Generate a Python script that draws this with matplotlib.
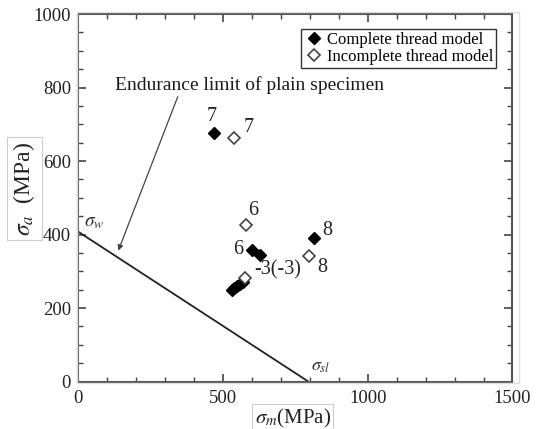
import matplotlib
matplotlib.use("Agg")
import matplotlib.pyplot as plt
from matplotlib.ticker import MultipleLocator
from matplotlib.patches import Rectangle

plt.rcParams['font.family'] = ['Liberation Serif', 'DejaVu Serif']
plt.rcParams['mathtext.fontset'] = 'stix'

# Data
complete_x = [470, 601, 627, 815, 530, 540, 550, 560, 570]
complete_y = [676, 359, 343, 391, 248, 254, 260, 266, 272]
incomplete_x = [539, 580, 799, 578]
incomplete_y = [662, 427, 341, 281]
limit_x = [0, 795]
limit_y = [408, 0]

labels_text = ["7", "7", "6", "6", "8", "8", "-3(-3)"]
labels_x = [462, 590, 606, 553, 862, 842, 690]
labels_y = [722, 690, 465, 360, 412, 310, 305]

fig = plt.figure(figsize=(5.38, 4.29), dpi=100)
L, B, W, H = 0.145, 0.1107, 0.8076, 0.8566
ax = fig.add_axes([L, B, W, H])

# faint frame around plot region
fig.patches.append(Rectangle((77 / 538, 1 - 383 / 429), (519 - 77) / 538, (383 - 12) / 429,
                             transform=fig.transFigure, fill=False,
                             edgecolor='#dddddd', lw=1.0, zorder=0))

ax.plot(limit_x, limit_y, color='#222222', lw=1.3, zorder=2)
ax.plot(complete_x, complete_y, linestyle='none', marker='D', ms=6.5,
        color='black', label='Complete thread model', zorder=3)
ax.plot(incomplete_x, incomplete_y, linestyle='none', marker='D', ms=6.5,
        markerfacecolor='white', markeredgecolor='#444444', mew=1.2,
        label='Incomplete thread model', zorder=3)

for t, x, y in zip(labels_text, labels_x, labels_y):
    ax.text(x, y, t, fontsize=14.5, ha='center', va='center', color='#222222')

ax.text(56, 432, r'$\sigma_w$', fontsize=14, ha='center', va='center', color='#333333')
ax.text(838, 40, r'$\sigma_{sl}$', fontsize=13, ha='center', va='center', color='#333333')

ax.annotate('Endurance limit of plain specimen', xy=(139, 356), xytext=(128, 807),
            fontsize=14, ha='left', va='center', color='#1a1a1a',
            arrowprops=dict(arrowstyle='-|>', color='#444444', lw=0.9,
                            mutation_scale=8, shrinkA=0, shrinkB=0,
                            relpos=(0.237, 0.0)))

ax.set_xlim(0, 1500)
ax.set_ylim(0, 1000)
ax.xaxis.set_major_locator(MultipleLocator(500))
ax.xaxis.set_minor_locator(MultipleLocator(100))
ax.yaxis.set_major_locator(MultipleLocator(200))
ax.yaxis.set_minor_locator(MultipleLocator(50))
ax.tick_params(which='both', direction='in', top=True, right=True,
               color='#444444', labelsize=13.5, labelcolor='#222222')
ax.tick_params(which='major', length=6, width=1.2)
ax.tick_params(which='minor', length=3.5, width=1.0)
ax.tick_params(axis='x', pad=6)
ax.tick_params(axis='y', pad=5)
for s in ax.spines.values():
    s.set_color('#555555')
    s.set_linewidth(1.5)

xbox = dict(boxstyle='square,pad=0.12', facecolor='white', edgecolor='#cccccc', lw=0.8)
ybox = dict(boxstyle='square,pad=0.2', facecolor='white', edgecolor='#cccccc', lw=0.8)
ax.set_xlabel(r'$\sigma_m$' + '(MPa)', fontsize=15, bbox=xbox, color='#222222')
ax.set_ylabel(r'$\sigma_a$' + '  (MPa)', fontsize=17, bbox=ybox, color='#222222')
ax.yaxis.set_label_coords(-0.094, 0.525)
ax.xaxis.set_label_coords(0.494, -0.068)

leg = ax.legend(loc='upper right', bbox_to_anchor=(0.962, 0.959), fontsize=12,
                frameon=True, fancybox=False, edgecolor='#333333', framealpha=1,
                handletextpad=0.2, handlelength=1.2, borderpad=0.15, labelspacing=0.1,
                borderaxespad=0)
leg.get_frame().set_linewidth(1.0)

fig.savefig('out.png', dpi=100)
